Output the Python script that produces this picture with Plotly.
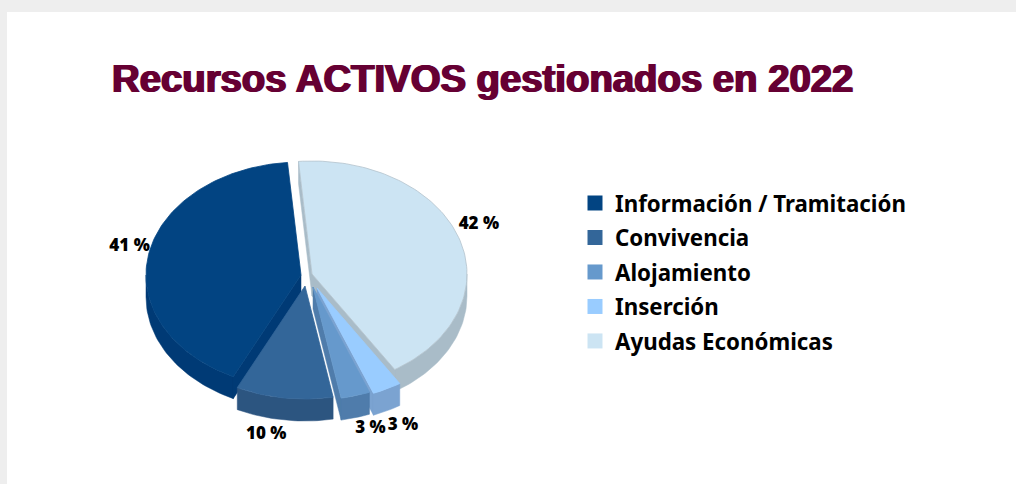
import math
import plotly.graph_objects as go

TITLE = "Recursos ACTIVOS gestionados en 2022"
CATEGORIES = ["Información / Tramitación", "Convivencia", "Alojamiento", "Inserción", "Ayudas Económicas"]
VALUES = [41, 10, 3, 3, 42]
DATA_LABELS = ["41 %", "10 %", "3 %", "3 %", "42 %"]

# Styling / geometry of the drawing
TOP_COLORS = ["#024482", "#336699", "#6699cc", "#99ccff", "#cce4f3"]
WALL_COLORS = ["#003a75", "#2c5580", "#4f7cab", "#7ba3d1", "#a9bcc8"]
APEX = [(301, 275), (305, 286), (313, 287), (317, 288), (312, 274)]
LABEL_SHIFT = [(-19, -8), (-18, 37), (15, 33), (16, 37), (20, -13)]
RX, RY, DEPTH = 155, 113, 22
START = 355.0
DRAW_ORDER = [4, 0, 3, 2, 1]


def pt(apex, ang, drop=0.0):
    a = math.radians(ang)
    return apex[0] + RX * math.sin(a), apex[1] - RY * math.cos(a) + drop


def arc(lo, hi):
    n = max(2, int((hi - lo) / 1.5) + 2)
    return [lo + (hi - lo) * i / (n - 1) for i in range(n)]


# slice angle ranges, running counter-clockwise from START
total = sum(VALUES)
ranges = []
cur = START
for v in VALUES:
    nxt = cur - v / total * 360
    ranges.append((nxt, cur))
    cur = nxt

fig = go.Figure()

for i in DRAW_ORDER:
    lo, hi = ranges[i]
    ap = APEX[i]
    wx, wy = [], []

    def add(poly):
        wx.extend([p[0] for p in poly] + [poly[0][0], None])
        wy.extend([p[1] for p in poly] + [poly[0][1], None])

    # radial walls facing the viewer
    for edge, sign in ((hi, 1), (lo, -1)):
        if sign * math.sin(math.radians(edge)) > 0:
            e = pt(ap, edge)
            add([ap, e, pt(ap, edge, DEPTH), (ap[0], ap[1] + DEPTH)])
    # outer wall: the part of the rim in the front half
    for k in range(-1, 2):
        f0, f1 = max(lo, 90 + 360 * k), min(hi, 270 + 360 * k)
        if f1 > f0:
            angs = arc(f0, f1)
            add([pt(ap, t) for t in angs] + [pt(ap, t, DEPTH) for t in reversed(angs)])
    fig.add_trace(go.Scatter(x=wx, y=wy, mode="lines", fill="toself", fillcolor=WALL_COLORS[i],
                             line=dict(color=WALL_COLORS[i], width=0.5), showlegend=False, hoverinfo="skip"))

    angs = arc(lo, hi)
    pts = [ap] + [pt(ap, t) for t in angs] + [ap]
    edge_col = "#b4c3cd" if i == 4 else TOP_COLORS[i]
    fig.add_trace(go.Scatter(x=[p[0] for p in pts], y=[p[1] for p in pts], mode="lines", fill="toself",
                             fillcolor=TOP_COLORS[i], line=dict(color=edge_col, width=0.8),
                             showlegend=False, hoverinfo="skip"))

# data labels
for i, lab in enumerate(DATA_LABELS):
    lo, hi = ranges[i]
    mx, my = pt(APEX[i], (lo + hi) / 2)
    fig.add_trace(go.Scatter(x=[mx + LABEL_SHIFT[i][0]], y=[my + LABEL_SHIFT[i][1]], mode="text", text=[lab],
                             textposition="middle center",
                             textfont=dict(family="Open Sans", size=17, color="#000000", weight=800),
                             showlegend=False, hoverinfo="skip"))

# legend entries
for i, name in enumerate(CATEGORIES):
    fig.add_trace(go.Scatter(x=[None], y=[None], mode="markers", name=name, legendgroup=name,
                             marker=dict(symbol="square", size=15, color=TOP_COLORS[i])))

fig.update_layout(
    width=1016, height=484, margin=dict(l=0, r=0, t=0, b=0),
    paper_bgcolor="#eeeeee", plot_bgcolor="#eeeeee",
    xaxis=dict(range=[0, 1016], visible=False, fixedrange=True),
    yaxis=dict(range=[484, 0], visible=False, fixedrange=True),
    shapes=[dict(type="rect", xref="paper", yref="paper", x0=7 / 1016, x1=1, y0=0, y1=1 - 12 / 484,
                 fillcolor="#ffffff", line=dict(width=0), layer="below")],
    annotations=[dict(text=TITLE, xref="paper", yref="paper", x=110 / 1016, y=1 - 78.5 / 484,
                      xanchor="left", yanchor="middle", showarrow=False,
                      font=dict(family="Liberation Sans", size=38.3, color="#660033", weight=700,
                                shadow="1px 0 0 #660033, -1px 0 0 #660033"))],
    legend=dict(x=575 / 1016, y=1 - 182 / 484, xanchor="left", yanchor="top", bgcolor="rgba(0,0,0,0)",
                tracegroupgap=2.5, font=dict(family="Noto Sans", size=22.3, color="#000000", weight=700),
                itemclick=False, itemdoubleclick=False),
    showlegend=True,
)

fig.write_html("out.html", config={"displayModeBar": False},
               post_script="document.body.style.margin='0';document.body.style.overflow='hidden';")
